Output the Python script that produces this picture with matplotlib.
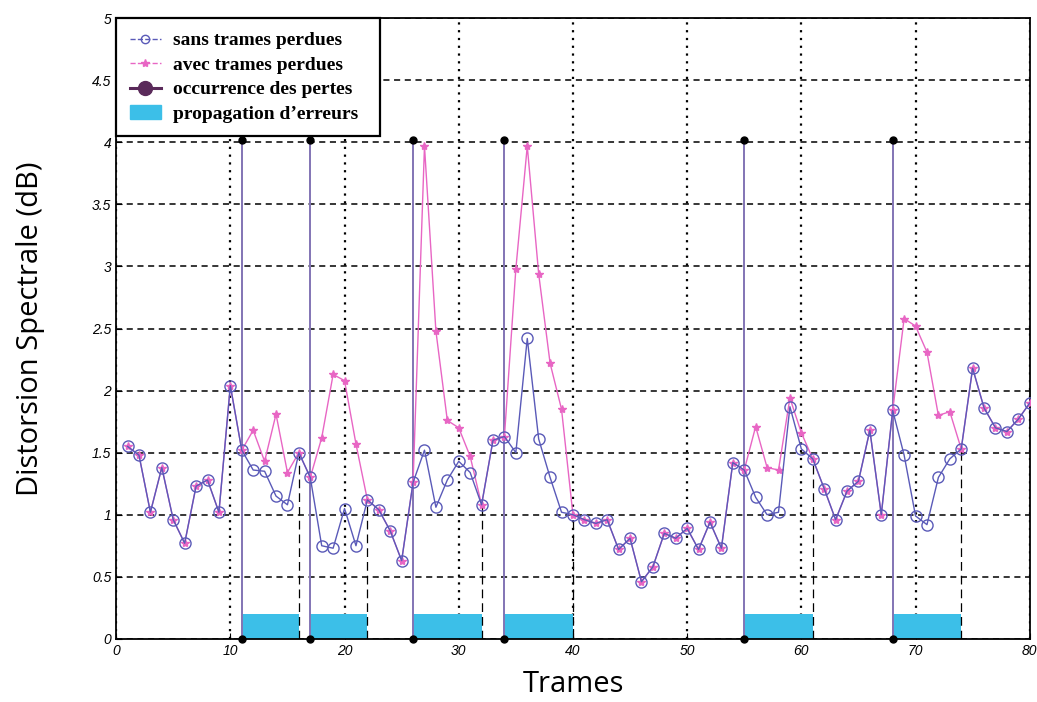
import matplotlib.pyplot as plt
from matplotlib.lines import Line2D
from matplotlib.patches import Patch
from matplotlib.ticker import FormatStrFormatter


frames = list(range(1, 81))

sans_pertes = [
    1.55, 1.48, 1.02, 1.38, 0.96, 0.77, 1.23, 1.28, 1.02, 2.04,
    1.52, 1.36, 1.35, 1.15, 1.08, 1.50, 1.30, 0.75, 0.73, 1.05,
    0.75, 1.12, 1.04, 0.87, 0.63, 1.26, 1.52, 1.06, 1.28, 1.43,
    1.34, 1.08, 1.60, 1.63, 1.50, 2.42, 1.61, 1.30, 1.02, 1.00,
    0.96, 0.93, 0.96, 0.72, 0.81, 0.46, 0.58, 0.85, 0.81, 0.89,
    0.72, 0.94, 0.73, 1.42, 1.36, 1.14, 1.00, 1.02, 1.87, 1.53,
    1.45, 1.21, 0.96, 1.19, 1.27, 1.68, 1.00, 1.84, 1.48, 0.99,
    0.92, 1.30, 1.45, 1.53, 2.18, 1.86, 1.70, 1.67, 1.77, 1.90
]

avec_pertes = [
    1.55, 1.48, 1.02, 1.38, 0.96, 0.77, 1.23, 1.28, 1.02, 2.04,
    1.52, 1.68, 1.43, 1.81, 1.34, 1.50, 1.30, 1.62, 2.13, 2.08,
    1.57, 1.12, 1.04, 0.87, 0.63, 1.26, 3.97, 2.48, 1.76, 1.70,
    1.47, 1.08, 1.60, 1.63, 2.98, 3.97, 2.94, 2.22, 1.85, 1.00,
    0.96, 0.93, 0.96, 0.72, 0.81, 0.46, 0.58, 0.85, 0.81, 0.89,
    0.72, 0.94, 0.73, 1.42, 1.36, 1.71, 1.38, 1.36, 1.94, 1.66,
    1.45, 1.21, 0.96, 1.19, 1.27, 1.68, 1.00, 1.84, 2.58, 2.52,
    2.31, 1.80, 1.83, 1.53, 2.18, 1.86, 1.70, 1.67, 1.77, 1.90
]

# frames where a packet is lost, and frame where the error dies out
loss_frames = [11, 17, 26, 34, 55, 68]
prop_end = [16, 22, 32, 40, 61, 74]
loss_top = 4.02
prop_height = 0.2

blue = "#5a5ab8"
pink = "#e866c4"
loss_color = "#8274b4"
cyan = "#3cbfe8"

plt.figure(figsize=(10.37, 7.02), dpi=100)
plt.subplots_adjust(left=0.112, right=0.993, top=0.974, bottom=0.090)
ax = plt.gca()

# error propagation bars
plt.bar(
    loss_frames,
    prop_height,
    width=[e - s for s, e in zip(loss_frames, prop_end)],
    align="edge",
    color=cyan,
    zorder=2
)

# end of propagation
plt.vlines(
    prop_end,
    0,
    [sans_pertes[frames.index(e)] for e in prop_end],
    colors="k",
    linestyles=(0, (7, 4)),
    linewidth=0.9,
    zorder=3
)

# loss occurrences
plt.vlines(loss_frames, 0, loss_top, colors=loss_color, linewidth=1.4, zorder=3)
plt.plot(loss_frames, [loss_top] * len(loss_frames), "o", color="k",
         markersize=5, clip_on=False, zorder=11)
plt.plot(loss_frames, [0] * len(loss_frames), "o", color="k",
         markersize=5, clip_on=False, zorder=6)

plt.plot(
    frames,
    avec_pertes,
    color=pink,
    marker="*",
    markersize=6,
    linewidth=1.0,
    zorder=4
)

plt.plot(
    frames,
    sans_pertes,
    color=blue,
    marker="o",
    markersize=8,
    markerfacecolor="none",
    markeredgewidth=1.0,
    linewidth=1.0,
    zorder=5
)

plt.xlim(0, 80)
plt.ylim(0, 5)
plt.xticks(range(0, 81, 10))
plt.yticks([i * 0.5 for i in range(11)])
ax.yaxis.set_major_formatter(FormatStrFormatter("%g"))
ax.tick_params(direction="in", length=4)
for lab in ax.get_xticklabels() + ax.get_yticklabels():
    lab.set_family("Liberation Sans")
    lab.set_style("italic")
    lab.set_fontsize(10)

ax.yaxis.grid(True, linestyle=(0, (4, 3)), color="k", linewidth=1.1)
ax.xaxis.grid(True, linestyle=(0, (1, 2.5)), color="k", linewidth=1.6)
ax.set_axisbelow(True)
for sp in ax.spines.values():
    sp.set_linewidth(1.3)

plt.xlabel("Trames", fontsize=21, family="Open Sans", labelpad=9)
plt.ylabel("Distorsion Spectrale (dB)", fontsize=21, family="Open Sans", labelpad=34)

handles = [
    Line2D([0], [0], color=blue, marker="o", markerfacecolor="none",
           markersize=6, linewidth=1, linestyle="--"),
    Line2D([0], [0], color=pink, marker="*", markersize=6,
           linewidth=1, linestyle="--"),
    Line2D([0], [0], color="#5a2a5a", marker="o", markersize=10, linewidth=2.2),
    Patch(facecolor=cyan, edgecolor=cyan),
]
labels = [
    "sans trames perdues",
    "avec trames perdues",
    "occurrence des pertes",
    "propagation d\u2019erreurs",
]
leg = plt.legend(
    handles,
    labels,
    loc="upper left",
    bbox_to_anchor=(0, 0.804, 0.289, 0.196),
    mode="expand",
    borderaxespad=0,
    fancybox=False,
    framealpha=1,
    edgecolor="k",
    handlelength=1.6,
    handletextpad=0.6,
    labelspacing=0.35,
    borderpad=0.7,
    prop={"family": "Liberation Serif", "weight": "bold", "size": 14},
)
leg.get_frame().set_linewidth(1.6)
leg.set_zorder(10)

plt.savefig("out.png", dpi=100)
plt.close()
